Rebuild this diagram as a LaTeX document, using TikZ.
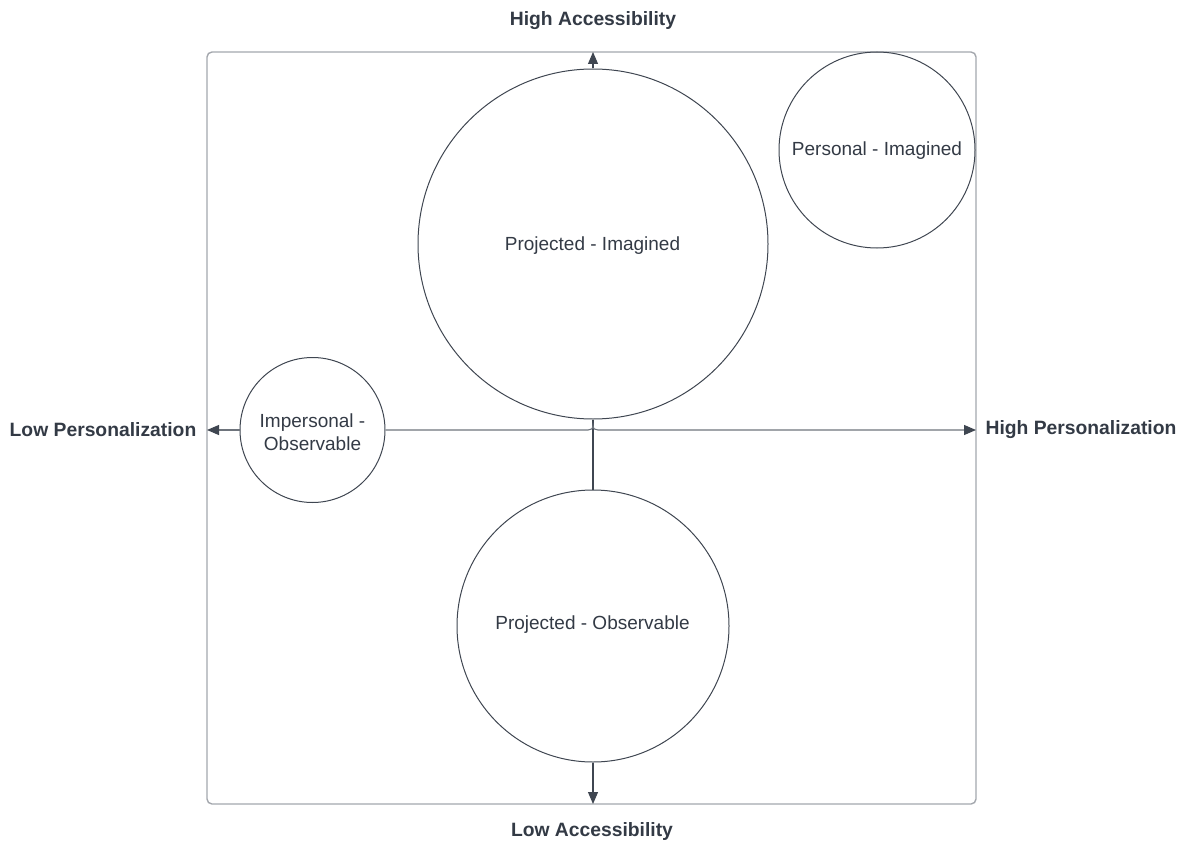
\documentclass[tikz,border=0pt]{standalone}
\usepackage{fontspec}
\setmainfont{Liberation Sans}
\usetikzlibrary{arrows.meta}
\definecolor{ink}{HTML}{333A45}
\definecolor{edge}{HTML}{3F4651}
\definecolor{frame}{HTML}{A3A7AD}
\definecolor{axis}{HTML}{6E747C}
\tikzset{
  bubble/.style={circle, draw=edge, line width=1pt, text=ink, align=center,
    inner sep=0pt, font=\fontsize{19}{22.5}\selectfont},
  bubbletext/.style={text=ink, font=\fontsize{19}{22.5}\selectfont},
  axislabel/.style={text=ink, font=\fontsize{19.3}{23}\selectfont\bfseries},
  tip/.style={-{Triangle[length=12pt,width=10pt,color=edge]}},
  arrowline/.style={draw=edge, line width=1.1pt, tip},
}
\begin{document}
\begin{tikzpicture}[x=1pt,y=-1pt]
\useasboundingbox (0,0) rectangle (1186,843);
% outer frame
\draw[frame, line width=1.4pt, rounded corners=5pt] (207,52) rectangle (976,804);
\coordinate (top) at (593,52);
\coordinate (bottom) at (593,804);
\coordinate (left) at (207,430);
\coordinate (right) at (976,430);
% quadrants
\node[bubble, minimum size=350pt] (pim) at (593,244) {};
\node[bubbletext] at (592.5,245.5) {Projected - Imagined};
\node[bubble, minimum size=196pt] (per) at (877,150) {};
\node[bubbletext] at (877,150.5) {Personal - Imagined};
\node[bubble, minimum size=145pt] (imp) at (312.5,430) {};
\node[bubbletext, align=center] at (312.5,432) {Impersonal -\\Observable};
\node[bubble, minimum size=272pt] (pob) at (593,626) {};
\node[bubbletext] at (592.5,624.5) {Projected - Observable};
% axes
\draw[arrowline] (pim.north) -- (top);
\draw[draw=edge, line width=1.1pt] (pim.south) -- (pob.north);
\draw[arrowline] (pob.south) -- (bottom);
\draw[arrowline, draw=axis] (imp.west) -- (left);
\draw[draw=axis, line width=1.1pt, tip]
  (imp.east) -- (588,430) .. controls (591,430) and (593,429) .. (593,425)
  .. controls (593,429) and (595,430) .. (598,430) -- (right);
% axis labels
\node[axislabel] (ha) at (593,20.5) {High Accessibility};
\node[axislabel] (la) at (592,832) {Low Accessibility};
\node[axislabel] (lp) at (103,430) {Low Personalization};
\node[axislabel] (hp) at (1081,430) {High Personalization};
\end{tikzpicture}
\end{document}
